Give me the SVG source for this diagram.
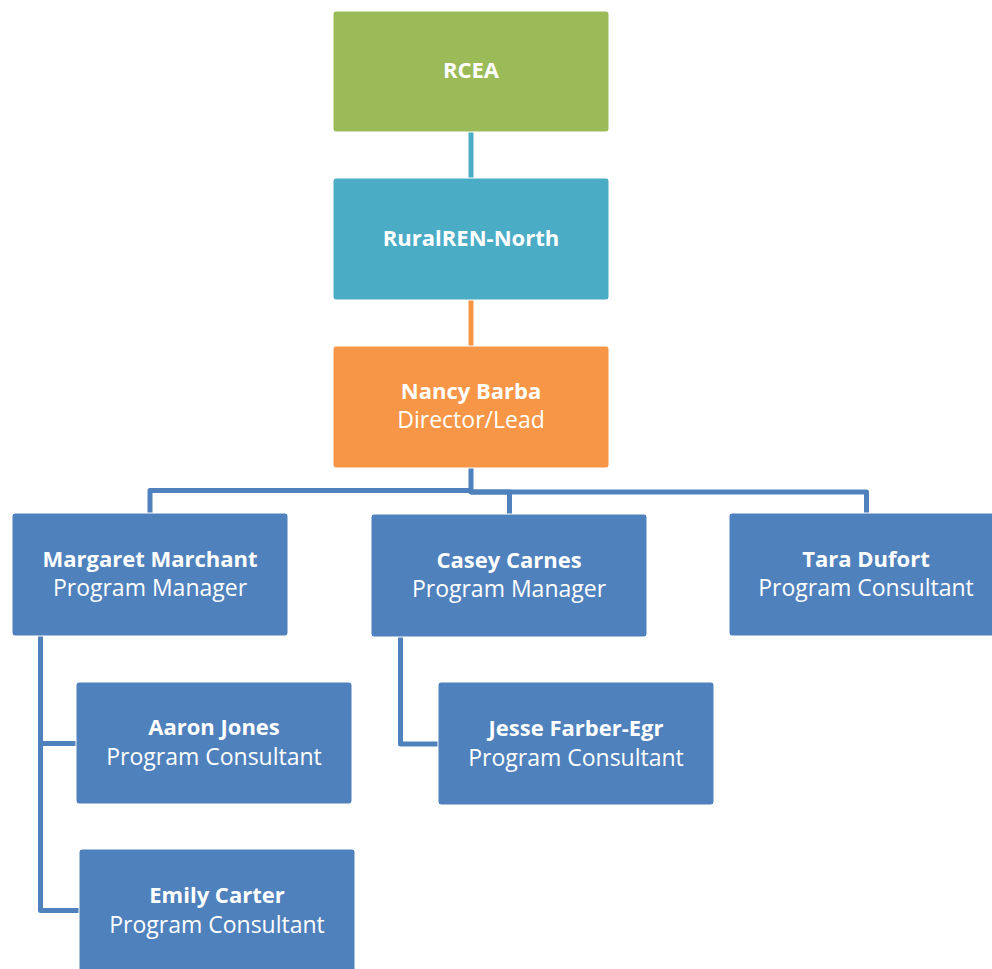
<svg xmlns="http://www.w3.org/2000/svg" width="992" height="969" viewBox="0 0 992 969">
<style>
.box{stroke:#ffffff;stroke-width:1}
.t{font-family:"Open Sans","Liberation Sans",sans-serif;font-size:23px;fill:#ffffff;text-anchor:middle}
.b{font-weight:bold;font-size:22px}
.c{fill:none;stroke-width:5;stroke-linejoin:round}
</style>
<rect width="992" height="969" fill="#ffffff"/>
<g id="connectors">
<path class="c" stroke="#4BACC6" d="M471 132V178"/>
<path class="c" stroke="#F79646" d="M471 300V346"/>
<path class="c" stroke="#4F81BD" d="M471 468V490.5H150V513"/>
<path class="c" stroke="#4F81BD" d="M471 490.5V492H509.5V514"/>
<path class="c" stroke="#4F81BD" d="M471 492H866.5V513"/>
<path class="c" stroke="#4F81BD" d="M40.5 636V910.5H79"/>
<path class="c" stroke="#4F81BD" d="M40.5 743.5H76"/>
<path class="c" stroke="#4F81BD" d="M400.5 637V744H438"/>
</g>
<g id="rcea"><rect class="box" x="333" y="11" width="276" height="121" rx="3" fill="#9BBB59"/><text class="t b" x="471" y="78">RCEA</text></g>
<g id="ruralren"><rect class="box" x="333" y="178" width="276" height="122" rx="3" fill="#4BACC6"/><text class="t b" x="471" y="246">RuralREN-North</text></g>
<g id="nancy"><rect class="box" x="333" y="346" width="276" height="122" rx="3" fill="#F79646"/><text class="t b" x="471" y="399">Nancy Barba</text><text class="t" x="471" y="428">Director/Lead</text></g>
<g id="margaret"><rect class="box" x="12" y="513" width="276" height="123" rx="3" fill="#4F81BD"/><text class="t b" x="150" y="567">Margaret Marchant</text><text class="t" x="150" y="596">Program Manager</text></g>
<g id="casey"><rect class="box" x="371" y="514" width="276" height="123" rx="3" fill="#4F81BD"/><text class="t b" x="509" y="568">Casey Carnes</text><text class="t" x="509" y="597">Program Manager</text></g>
<g id="tara"><rect class="box" x="729" y="513" width="276" height="123" rx="3" fill="#4F81BD"/><text class="t b" x="866" y="567">Tara Dufort</text><text class="t" x="866" y="596">Program Consultant</text></g>
<g id="aaron"><rect class="box" x="76" y="682" width="276" height="122" rx="3" fill="#4F81BD"/><text class="t b" x="214" y="735">Aaron Jones</text><text class="t" x="214" y="765">Program Consultant</text></g>
<g id="jesse"><rect class="box" x="438" y="682" width="276" height="123" rx="3" fill="#4F81BD"/><text class="t b" x="576" y="736">Jesse Farber-Egr</text><text class="t" x="576" y="766">Program Consultant</text></g>
<g id="emily"><rect class="box" x="79" y="849" width="276" height="130" rx="3" fill="#4F81BD"/><text class="t b" x="217" y="903">Emily Carter</text><text class="t" x="217" y="933">Program Consultant</text></g>
</svg>
